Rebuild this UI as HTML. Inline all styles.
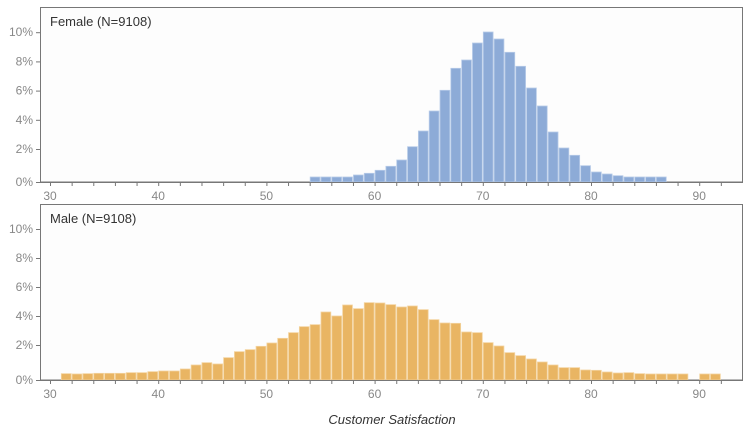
<!DOCTYPE html>
<html><head><meta charset="utf-8"><style>
html,body{margin:0;padding:0;background:#fff;width:751px;height:432px;overflow:hidden}
text{font-family:"Liberation Sans",sans-serif}
</style></head><body>
<svg id="s" width="751" height="432" xmlns="http://www.w3.org/2000/svg">
<rect x="40.5" y="7.5" width="702" height="174.5" fill="#fdfdfd" stroke="#777" stroke-width="1"/>
<rect x="40.5" y="204.5" width="702" height="175.5" fill="#fdfdfd" stroke="#777" stroke-width="1"/>
<g id="g"></g>
<text x="50" y="26" font-size="13" fill="#333">Female (N=9108)</text>
<text x="50" y="223" font-size="13" fill="#333">Male (N=9108)</text>
<text x="392" y="424" font-size="13" fill="#333" font-style="italic" text-anchor="middle">Customer Satisfaction</text>
</svg>
<script>
var g=document.getElementById('g'),NS='http://www.w3.org/2000/svg';
function el(t,a,txt){var e=document.createElementNS(NS,t);for(var k in a)e.setAttribute(k,a[k]);if(txt)e.textContent=txt;g.appendChild(e);return e;}
function X(v){return 50+(v-30)*10.82;}
function axis(base,zero,s){
 el('line',{x1:40,x2:743,y1:base+0.5,y2:base+0.5,stroke:'#777'});
 for(var v=30;v<=92;v+=2){el('line',{x1:X(v)+0.5,x2:X(v)+0.5,y1:base,y2:base+4,stroke:'#777'});}
 for(var v=30;v<=90;v+=10){el('text',{x:X(v),y:base+18,'font-size':12,fill:'#888','text-anchor':'middle'},''+v);}
 for(var p=0;p<=10;p+=2){var y=p==0?base:zero-p*s;el('line',{x1:36,x2:40,y1:y+0.5,y2:y+0.5,stroke:'#777'});el('text',{x:33,y:y+4,'font-size':12,fill:'#888','text-anchor':'end'},p+'%');}
}
function bars(base,data,fill,stroke){
 for(var k in data){var v=+k,y=data[k];if(y==null)continue;
  el('rect',{x:X(v)+0.5,y:y,width:9.8,height:base-y,fill:fill,stroke:stroke,'stroke-width':0.8});}
}
var f={54:177,55:177,56:177,57:177,58:175,59:173.3,60:170.3,61:166.3,62:160,63:146.7,64:131,65:111,66:90.3,67:68.3,68:60,69:43,70:32,71:39,72:52.3,73:66.3,74:88,75:106,76:132,77:148,78:155.3,79:165.7,80:172,81:174,82:175.7,83:177,84:177,85:177,86:177};
bars(182,f,'#8dabd7','#b7cbe8');
var mp={31:521,32:522,33:521,34:520,35:520,36:520,37:518,38:518,39:515,40:513,41:513,42:507,43:495,44:488,45:492,46:473,47:455,48:449,49:439,50:429,51:415,52:398,53:380,54:374,55:336,56:348,57:315,58:326,59:308,60:309,61:314,62:321,63:318,64:329,65:359,66:369,67:370,68:396,69:398,70:428,71:438,72:458,73:467,74:477,75:486,76:495,77:503,78:503,79:510,80:511,81:516,82:519,83:518,84:521,85:522,86:522,87:522,88:522,90:522,91:522};
var m={};for(var k in mp)m[k]=200+mp[k]/3;
bars(380,m,'#e9b563','#f3d39e');
axis(182,178.2,14.6);axis(380,374,14.5);
</script>
</body></html>
